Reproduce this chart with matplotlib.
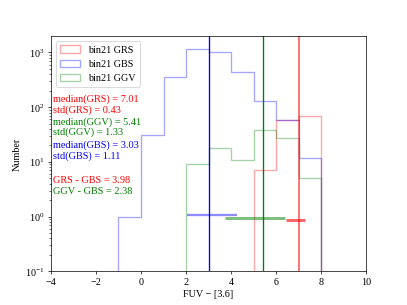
import numpy as np
import matplotlib
matplotlib.use("Agg")
import matplotlib.pyplot as plt

plt.rcParams['font.family'] = ['Liberation Serif', 'DejaVu Serif']
plt.rcParams['mathtext.fontset'] = 'stix'
plt.rcParams['font.size'] = 11.5

# Histogram data (bin edges and counts)
gbs_edges = [-1, 0, 1, 2, 3, 4, 5, 6, 7, 8]
gbs_counts = [1, 31, 355, 1170, 1016, 444, 128, 59, 12]
ggv_edges = [2, 3, 4, 5, 6, 7, 8]
ggv_counts = [9, 18, 11, 38, 27, 5]
grs_edges = [5, 6, 7, 8]
grs_counts = [7, 59, 68]

# Medians, means and std
medians = {'GRS': 7.01, 'GGV': 5.41, 'GBS': 3.03}
means = {'GRS': 6.85, 'GGV': 5.05, 'GBS': 3.13}
stds = {'GRS': 0.43, 'GGV': 1.33, 'GBS': 1.11}
eb_y = {'GRS': 0.86, 'GGV': 0.96, 'GBS': 1.08}

labels_text = [
    ("median(GRS) = 7.01", 'red'),
    ("std(GRS) = 0.43", 'red'),
    ("median(GGV) = 5.41", 'green'),
    ("std(GGV) = 1.33", 'green'),
    ("median(GBS) = 3.03", 'blue'),
    ("std(GBS) = 1.11", 'blue'),
    ("GRS - GBS = 3.98", 'red'),
    ("GGV - GBS = 2.38", 'green'),
]
text_y = [0.735, 0.686, 0.638, 0.592, 0.540, 0.490, 0.388, 0.341]

fig = plt.figure(figsize=(6.4, 4.8), dpi=63.6)
ax = fig.add_axes([0.125, 0.11, 0.775, 0.77])

def centers(e):
    e = np.asarray(e, float)
    return (e[:-1] + e[1:]) / 2

ax.hist(centers(grs_edges), bins=grs_edges, weights=grs_counts, histtype='step',
        color='red', alpha=0.35, lw=1.5, log=True, label='bin21 GRS')
ax.hist(centers(gbs_edges), bins=gbs_edges, weights=gbs_counts, histtype='step',
        color='blue', alpha=0.35, lw=1.5, log=True, label='bin21 GBS')
ax.hist(centers(ggv_edges), bins=ggv_edges, weights=ggv_counts, histtype='step',
        color='green', alpha=0.35, lw=1.5, log=True, label='bin21 GGV')

ax.axvline(medians['GBS'], color='blue', lw=1.5)
ax.axvline(medians['GGV'], color='green', lw=1.5)
ax.axvline(medians['GRS'], color='red', alpha=0.55, lw=2.2)

ax.errorbar(means['GBS'], eb_y['GBS'], xerr=stds['GBS'], color='blue', alpha=0.45,
            lw=2.6, capsize=0)
ax.errorbar(means['GGV'], eb_y['GGV'], xerr=stds['GGV'], color='green', alpha=0.5,
            lw=3.4, capsize=0)
ax.errorbar(means['GRS'], eb_y['GRS'], xerr=stds['GRS'], color='red', alpha=0.6,
            lw=3.4, capsize=0)

texts = []
for (t, c), y in zip(labels_text, text_y):
    texts.append(ax.text(0.008, y, t, color=c, transform=ax.transAxes,
                         va='center', ha='left'))

ax.set_xlim(-4, 10)
ax.set_ylim(0.1, 1970)
ax.set_xticks(np.arange(-4, 11, 2))
ax.set_xlabel('FUV − [3.6]')
ax.set_ylabel('Number')
leg = ax.legend(loc='upper left')

# fit text size so that the first annotation is ~86 px wide (as in reference)
fig.canvas.draw()
r = fig.canvas.get_renderer()
w = texts[0].get_window_extent(r).width
scale = 86.0 / w
for t in texts:
    t.set_fontsize(t.get_fontsize() * scale)

fig.savefig('out.png', dpi=63.6)
